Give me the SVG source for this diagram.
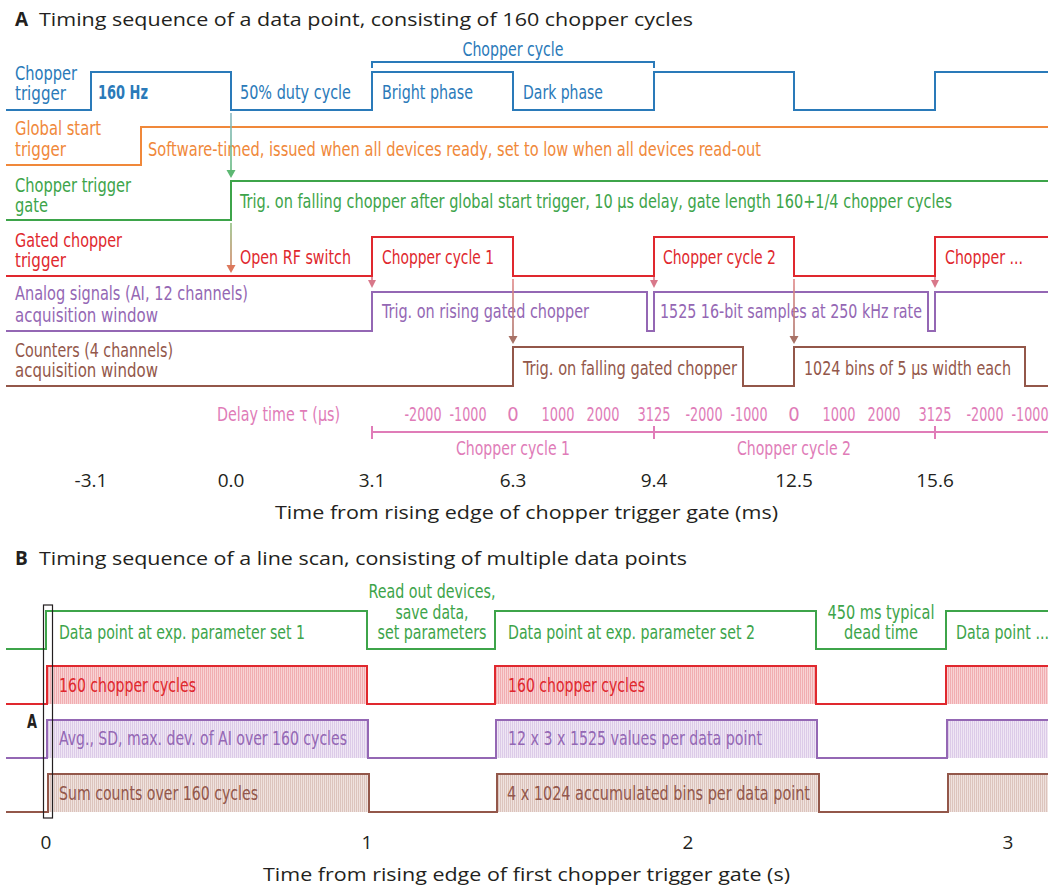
<svg xmlns="http://www.w3.org/2000/svg" width="1052" height="889" viewBox="0 0 1052 889">
<style>
.c{font-family:'Liberation Sans Narrow','DejaVu Sans Condensed','DejaVu Sans',sans-serif;font-stretch:condensed;font-size:20px}
.r{font-family:'Open Sans','Liberation Sans',sans-serif;font-size:19px;fill:#231f20}
.tb{font-family:'Open Sans','Liberation Sans',sans-serif;font-size:19px;font-weight:bold;fill:#231f20}
.b{font-weight:bold}
.sig{fill:none;stroke-width:2;stroke-linejoin:miter}
.blue{fill:#2a7ab9}.sblue{stroke:#2a7ab9}
.orange{fill:#f0883a}.sorange{stroke:#f0883a}
.green{fill:#3da44a}.sgreen{stroke:#3da44a}
.red{fill:#e0282e}.sred{stroke:#e0282e}
.purple{fill:#9467b4}.spurple{stroke:#9467b4}
.brown{fill:#93574a}.sbrown{stroke:#93574a}
.pink{fill:#e07cb8}.spink{stroke:#e07cb8}
.mid{text-anchor:middle}
</style>
<defs>
<pattern id="hRed" width="2" height="10" patternUnits="userSpaceOnUse"><rect width="2" height="10" fill="#f8d3d4"/><rect width="1" height="10" fill="#f1adb1"/></pattern>
<pattern id="hPur" width="2" height="10" patternUnits="userSpaceOnUse"><rect width="2" height="10" fill="#efe6f4"/><rect width="1" height="10" fill="#dccbe8"/></pattern>
<pattern id="hBrn" width="2" height="10" patternUnits="userSpaceOnUse"><rect width="2" height="10" fill="#efe2de"/><rect width="1" height="10" fill="#dcc4bd"/></pattern>
<linearGradient id="g1" gradientUnits="userSpaceOnUse" x1="0" y1="113" x2="0" y2="178"><stop offset="0" stop-color="#8ab8c4"/><stop offset="1" stop-color="#5db873"/></linearGradient>
<linearGradient id="g2" gradientUnits="userSpaceOnUse" x1="0" y1="223" x2="0" y2="273"><stop offset="0" stop-color="#8fbf80"/><stop offset="1" stop-color="#dc785c"/></linearGradient>
<linearGradient id="g3" gradientUnits="userSpaceOnUse" x1="0" y1="279" x2="0" y2="344"><stop offset="0" stop-color="#e08888"/><stop offset="1" stop-color="#a87266"/></linearGradient>
</defs>
<rect width="1052" height="889" fill="#ffffff"/>

<g id="titleA">
<text class="tb" x="15" y="26">A</text>
<text class="r" x="39" y="26" textLength="654" lengthAdjust="spacingAndGlyphs">Timing sequence of a data point, consisting of 160 chopper cycles</text>
</g>

<g id="chopper-trigger">
<path class="sig sblue" d="M6,110 H91 V72 H231 V110 H372 V72 H513 V110 H654 V72 H794 V110 H935 V72 H1048"/>
<path class="sig sblue" stroke-width="1.6" d="M372,68 V62 H654 V68"/>
<text class="c blue mid" x="513" y="56" textLength="101" lengthAdjust="spacingAndGlyphs">Chopper cycle</text>
<text class="c blue" x="15" y="80" textLength="62" lengthAdjust="spacingAndGlyphs">Chopper</text>
<text class="c blue" x="15" y="100" textLength="51" lengthAdjust="spacingAndGlyphs">trigger</text>
<text class="c blue b" x="98" y="99" textLength="50" lengthAdjust="spacingAndGlyphs">160 Hz</text>
<text class="c blue" x="240" y="99" textLength="111" lengthAdjust="spacingAndGlyphs">50% duty cycle</text>
<text class="c blue" x="382" y="99" textLength="91" lengthAdjust="spacingAndGlyphs">Bright phase</text>
<text class="c blue" x="523" y="99" textLength="80" lengthAdjust="spacingAndGlyphs">Dark phase</text>
</g>

<g id="global-start-trigger">
<path class="sig sorange" d="M6,165 H141 V127 H1048"/>
<text class="c orange" x="15" y="135" textLength="86" lengthAdjust="spacingAndGlyphs">Global start</text>
<text class="c orange" x="15" y="156" textLength="51" lengthAdjust="spacingAndGlyphs">trigger</text>
<text class="c orange" x="148" y="156" textLength="613" lengthAdjust="spacingAndGlyphs">Software-timed, issued when all devices ready, set to low when all devices read-out</text>
</g>

<g id="chopper-trigger-gate">
<path class="sig sgreen" d="M6,220 H231 V181 H1048"/>
<text class="c green" x="15" y="192" textLength="116" lengthAdjust="spacingAndGlyphs">Chopper trigger</text>
<text class="c green" x="15" y="212" textLength="33" lengthAdjust="spacingAndGlyphs">gate</text>
<text class="c green" x="240" y="208" textLength="712" lengthAdjust="spacingAndGlyphs">Trig. on falling chopper after global start trigger, 10 µs delay, gate length 160+1/4 chopper cycles</text>
</g>

<g id="gated-chopper-trigger">
<path class="sig sred" d="M6,276 H372 V237 H513 V276 H654 V237 H794 V276 H935 V237 H1048"/>
<text class="c red" x="15" y="247" textLength="107" lengthAdjust="spacingAndGlyphs">Gated chopper</text>
<text class="c red" x="15" y="267" textLength="51" lengthAdjust="spacingAndGlyphs">trigger</text>
<text class="c red" x="240" y="264" textLength="111" lengthAdjust="spacingAndGlyphs">Open RF switch</text>
<text class="c red" x="382" y="264" textLength="112" lengthAdjust="spacingAndGlyphs">Chopper cycle 1</text>
<text class="c red" x="663" y="264" textLength="113" lengthAdjust="spacingAndGlyphs">Chopper cycle 2</text>
<text class="c red" x="945" y="264" textLength="78" lengthAdjust="spacingAndGlyphs">Chopper ...</text>
</g>

<g id="analog-signals">
<path class="sig spurple" d="M6,331 H372 V292 H647 V331 H654 V292 H928 V331 H935 V292 H1048"/>
<text class="c purple" x="15" y="300" textLength="233" lengthAdjust="spacingAndGlyphs">Analog signals (AI, 12 channels)</text>
<text class="c purple" x="15" y="322" textLength="143" lengthAdjust="spacingAndGlyphs">acquisition window</text>
<text class="c purple" x="382" y="318" textLength="207" lengthAdjust="spacingAndGlyphs">Trig. on rising gated chopper</text>
<text class="c purple" x="660" y="318" textLength="262" lengthAdjust="spacingAndGlyphs">1525 16-bit samples at 250 kHz rate</text>
</g>

<g id="counters">
<path class="sig sbrown" d="M6,386 H513 V347 H743 V386 H794 V347 H1025 V386 H1048"/>
<text class="c brown" x="15" y="357" textLength="158" lengthAdjust="spacingAndGlyphs">Counters (4 channels)</text>
<text class="c brown" x="15" y="377" textLength="143" lengthAdjust="spacingAndGlyphs">acquisition window</text>
<text class="c brown" x="523" y="375" textLength="214" lengthAdjust="spacingAndGlyphs">Trig. on falling gated chopper</text>
<text class="c brown" x="804" y="375" textLength="207" lengthAdjust="spacingAndGlyphs">1024 bins of 5 µs width each</text>
</g>

<g id="connectors">
<line x1="231" y1="113" x2="231" y2="171" stroke="url(#g1)" stroke-width="1.6"/>
<polygon points="226.5,170 235.5,170 231,178" fill="#5db873"/>
<line x1="231" y1="223" x2="231" y2="266" stroke="url(#g2)" stroke-width="1.6"/>
<polygon points="226.5,265 235.5,265 231,273" fill="#dc785c"/>
<g fill="#d8788a" stroke="#d8788a" stroke-width="1.6">
<line x1="372" y1="277" x2="372" y2="281"/><polygon stroke="none" points="368,280 376,280 372,288"/>
<line x1="654" y1="277" x2="654" y2="281"/><polygon stroke="none" points="650,280 658,280 654,288"/>
<line x1="935" y1="277" x2="935" y2="281"/><polygon stroke="none" points="931,280 939,280 935,288"/>
</g>
<line x1="513" y1="279" x2="513" y2="337" stroke="url(#g3)" stroke-width="1.6"/>
<polygon points="508.5,336 517.5,336 513,344" fill="#a87266"/>
<line x1="794" y1="279" x2="794" y2="337" stroke="url(#g3)" stroke-width="1.6"/>
<polygon points="789.5,336 798.5,336 794,344" fill="#a87266"/>
</g>

<g id="delay-axis">
<path class="sig spink" d="M372,432 H1048 M372,426 V439 M654,426 V439 M935,426 V439"/>
<text class="c pink" x="217" y="421" textLength="123" lengthAdjust="spacingAndGlyphs">Delay time τ (µs)</text>
<g class="c pink mid">
<text x="423" y="421" textLength="37" lengthAdjust="spacingAndGlyphs">-2000</text>
<text x="468" y="421" textLength="37" lengthAdjust="spacingAndGlyphs">-1000</text>
<text x="513" y="421">0</text>
<text x="558" y="421" textLength="33" lengthAdjust="spacingAndGlyphs">1000</text>
<text x="603" y="421" textLength="33" lengthAdjust="spacingAndGlyphs">2000</text>
<text x="654" y="421" textLength="33" lengthAdjust="spacingAndGlyphs">3125</text>
<text x="704" y="421" textLength="37" lengthAdjust="spacingAndGlyphs">-2000</text>
<text x="749" y="421" textLength="37" lengthAdjust="spacingAndGlyphs">-1000</text>
<text x="794" y="421">0</text>
<text x="839" y="421" textLength="33" lengthAdjust="spacingAndGlyphs">1000</text>
<text x="884" y="421" textLength="33" lengthAdjust="spacingAndGlyphs">2000</text>
<text x="935" y="421" textLength="33" lengthAdjust="spacingAndGlyphs">3125</text>
<text x="985" y="421" textLength="37" lengthAdjust="spacingAndGlyphs">-2000</text>
<text x="1030" y="421" textLength="37" lengthAdjust="spacingAndGlyphs">-1000</text>
<text x="513" y="455" textLength="114" lengthAdjust="spacingAndGlyphs">Chopper cycle 1</text>
<text x="794" y="455" textLength="114" lengthAdjust="spacingAndGlyphs">Chopper cycle 2</text>
</g>
</g>

<g id="time-axis-A">
<g class="r mid">
<text x="91" y="487">-3.1</text>
<text x="231" y="487">0.0</text>
<text x="372" y="487">3.1</text>
<text x="513" y="487">6.3</text>
<text x="654" y="487">9.4</text>
<text x="794" y="487">12.5</text>
<text x="935" y="487">15.6</text>
</g>
<text class="r" x="275" y="519" textLength="503" lengthAdjust="spacingAndGlyphs">Time from rising edge of chopper trigger gate (ms)</text>
</g>

<g id="titleB">
<text class="tb" x="15" y="565">B</text>
<text class="r" x="39" y="565" textLength="648" lengthAdjust="spacingAndGlyphs">Timing sequence of a line scan, consisting of multiple data points</text>
</g>

<g id="data-point-gate">
<path class="sig sgreen" d="M6,649 H46 V611 H367 V649 H495 V611 H816 V649 H946 V611 H1048"/>
<text class="c green" x="59" y="639" textLength="246" lengthAdjust="spacingAndGlyphs">Data point at exp. parameter set 1</text>
<g class="c green mid">
<text x="432" y="598" textLength="127" lengthAdjust="spacingAndGlyphs">Read out devices,</text>
<text x="432" y="619" textLength="73" lengthAdjust="spacingAndGlyphs">save data,</text>
<text x="432" y="639" textLength="109" lengthAdjust="spacingAndGlyphs">set parameters</text>
<text x="881" y="619" textLength="107" lengthAdjust="spacingAndGlyphs">450 ms typical</text>
<text x="881" y="639" textLength="74" lengthAdjust="spacingAndGlyphs">dead time</text>
</g>
<text class="c green" x="508" y="639" textLength="247" lengthAdjust="spacingAndGlyphs">Data point at exp. parameter set 2</text>
<text class="c green" x="956" y="639" textLength="93" lengthAdjust="spacingAndGlyphs">Data point ...</text>
</g>

<g id="chopper-cycles-B">
<rect x="47" y="666" width="320" height="38" fill="url(#hRed)"/>
<rect x="495" y="666" width="321" height="38" fill="url(#hRed)"/>
<rect x="946" y="666" width="102" height="38" fill="url(#hRed)"/>
<path class="sig sred" d="M6,704 H47 V666 H367 V704 H495 V666 H816 V704 H946 V666 H1048"/>
<text class="c red" x="59" y="692" textLength="137" lengthAdjust="spacingAndGlyphs">160 chopper cycles</text>
<text class="c red" x="508" y="692" textLength="137" lengthAdjust="spacingAndGlyphs">160 chopper cycles</text>
</g>

<g id="analog-B">
<rect x="47" y="720" width="321" height="38" fill="url(#hPur)"/>
<rect x="496" y="720" width="321" height="38" fill="url(#hPur)"/>
<rect x="947" y="720" width="101" height="38" fill="url(#hPur)"/>
<path class="sig spurple" d="M6,758 H47 V720 H368 V758 H496 V720 H817 V758 H947 V720 H1048"/>
<text class="c purple" x="59" y="745" textLength="288" lengthAdjust="spacingAndGlyphs">Avg., SD, max. dev. of AI over 160 cycles</text>
<text class="c purple" x="508" y="745" textLength="254" lengthAdjust="spacingAndGlyphs">12 x 3 x 1525 values per data point</text>
</g>

<g id="counters-B">
<rect x="48" y="774" width="321" height="38" fill="url(#hBrn)"/>
<rect x="497" y="774" width="322" height="38" fill="url(#hBrn)"/>
<rect x="948" y="774" width="100" height="38" fill="url(#hBrn)"/>
<path class="sig sbrown" d="M6,812 H48 V774 H369 V812 H497 V774 H819 V812 H948 V774 H1048"/>
<text class="c brown" x="59" y="800" textLength="199" lengthAdjust="spacingAndGlyphs">Sum counts over 160 cycles</text>
<text class="c brown" x="507" y="800" textLength="303" lengthAdjust="spacingAndGlyphs">4 x 1024 accumulated bins per data point</text>
</g>

<g id="inset-A">
<rect x="43.5" y="605" width="9" height="213" fill="none" stroke="#231f20" stroke-width="1.2"/>
<text class="c b" x="27" y="728" fill="#231f20" font-size="17" textLength="10" lengthAdjust="spacingAndGlyphs">A</text>
</g>

<g id="time-axis-B">
<g class="r mid">
<text x="46" y="849">0</text>
<text x="367" y="849">1</text>
<text x="688" y="849">2</text>
<text x="1008" y="849">3</text>
</g>
<text class="r" x="263" y="881" textLength="527" lengthAdjust="spacingAndGlyphs">Time from rising edge of first chopper trigger gate (s)</text>
</g>
</svg>
